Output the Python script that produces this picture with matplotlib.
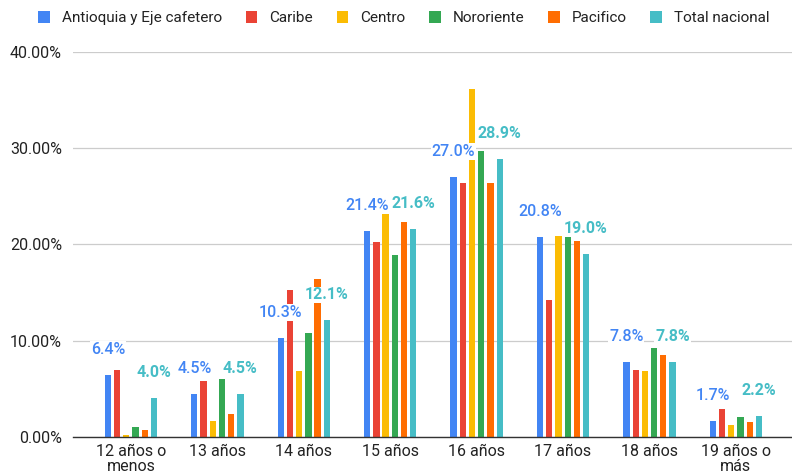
import matplotlib
matplotlib.use("Agg")
import matplotlib.pyplot as plt
import numpy as np
from matplotlib.patches import Patch
from matplotlib.ticker import FuncFormatter

plt.rcParams['font.family'] = ['Roboto', 'DejaVu Sans']

categories = ["12 años o\nmenos", "13 años", "14 años", "15 años", "16 años", "17 años", "18 años", "19 años o\nmás"]
series_names = ["Antioquia y Eje cafetero", "Caribe", "Centro", "Nororiente", "Pacifico", "Total nacional"]
antioquia = [6.4, 4.5, 10.3, 21.4, 27.0, 20.8, 7.8, 1.7]
caribe = [7.0, 5.8, 15.3, 20.2, 26.4, 14.2, 7.0, 2.9]
centro = [0.2, 1.7, 6.9, 24.9, 36.1, 20.9, 6.8, 1.2]
nororiente = [1.0, 6.0, 10.8, 18.9, 29.7, 21.1, 9.2, 2.05]
pacifico = [0.75, 2.4, 16.4, 22.3, 26.4, 20.3, 8.5, 1.6]
total = [4.0, 4.5, 12.1, 21.6, 28.9, 19.0, 7.8, 2.2]
yticks = [0, 10, 20, 30, 40]

series = [antioquia, caribe, centro, nororiente, pacifico, total]
colors = ["#4285F4", "#EA4335", "#FBBC04", "#34A853", "#FF6D01", "#46BDC6"]
labeled = {0: "medium", 5: "bold"}

fig = plt.figure(figsize=(7.92, 4.76), dpi=100)
ax = fig.add_axes([73 / 792, 0.082, 1 - 73 / 792, 0.8094])

x = np.arange(len(categories))
pitch = 0.1065
bw = 0.072
for i, (vals, c) in enumerate(zip(series, colors)):
    offs = (i - 2.5) * pitch
    ax.bar(x + offs, vals, width=bw, color=c, zorder=3)

for i, weight in labeled.items():
    offs = (i - 2.5) * pitch
    for xi, v in zip(x, series[i]):
        ax.annotate(f"{v:.1f}%", (xi + offs, v), xytext=(0, 13), textcoords="offset points",
                    ha="center", va="bottom", fontsize=11.5, color=colors[i], fontweight=weight,
                    zorder=5,
                    bbox=dict(boxstyle="square,pad=0.05", fc="white", ec="none"))

ax.set_xlim(-0.671, 7.65)
ax.set_ylim(0, 40)
ax.set_yticks(yticks)
ax.yaxis.set_major_formatter(FuncFormatter(lambda v, p: f"{v:.2f}%"))
ax.set_xticks(x)
ax.set_xticklabels(categories, fontsize=11.5, color="#222222", linespacing=1.0)
ax.tick_params(axis="y", labelsize=11.5, colors="#222222", length=0, pad=8)
ax.tick_params(axis="x", length=0, pad=5)
ax.grid(axis="y", color="#cccccc", linewidth=0.9, zorder=0)
for s in ["top", "right", "left"]:
    ax.spines[s].set_visible(False)
ax.spines["bottom"].set_color("#333333")
ax.spines["bottom"].set_linewidth(1.0)
ax.spines["bottom"].set_zorder(4)

handles = [Patch(facecolor=c, edgecolor="none") for c in colors]
fig.legend(handles, series_names, loc="center", bbox_to_anchor=(0.51, 0.962), ncol=6,
           frameon=False, fontsize=11, handlelength=0.75, handleheight=0.9,
           handletextpad=0.8, columnspacing=1.55, labelcolor="#222222")

fig.savefig("out.png", dpi=100)
